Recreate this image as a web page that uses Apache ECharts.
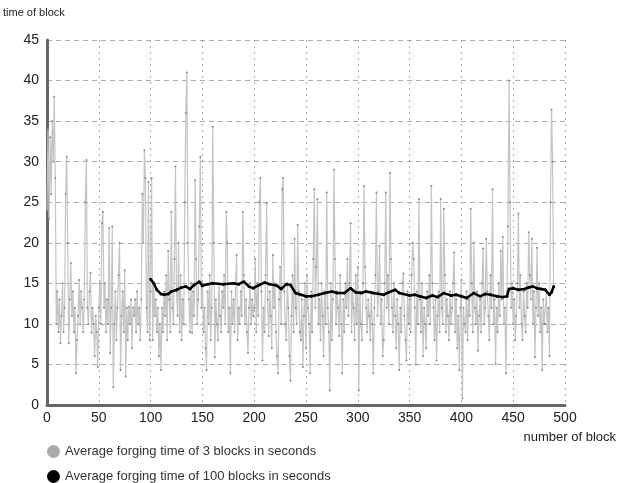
<!DOCTYPE html>
<html>
<head>
<meta charset="utf-8">
<script src="https://cdn.jsdelivr.net/npm/echarts@6/dist/echarts.min.js"></script>
<style>
  html, body { margin: 0; padding: 0; background: #fff; }
  #chart { width: 619px; height: 483px; }
</style>
</head>
<body>
<div id="chart"></div>
<script>
// forging time of 3 blocks, one value per block (0..489)
var block3Values = [
  24, 34, 23, 33, 26, 35, 30, 38, 28, 10,
  14, 9, 13, 7.6, 11, 15, 9, 12, 26, 30.6,
  20, 7.6, 13, 17.5, 11, 14, 9, 12, 3.9, 8,
  11, 15.4, 10, 14, 12, 9, 13, 25, 30.2, 12,
  10, 14, 16.3, 8.9, 12, 10, 6, 11, 9, 4.7,
  12, 15, 10, 22.4, 23.8, 12, 15, 9, 13, 10,
  21.8, 6.4, 12, 22, 2.2, 10, 14, 8, 12, 16,
  20, 4.3, 11, 14, 9, 16.6, 3.5, 12, 8, 12.1,
  10, 13, 7, 12, 11, 13, 9, 14, 10, 12,
  8, 13, 26, 20, 31.4, 28, 12, 9, 27.5, 8,
  14, 28, 8, 15, 11, 13, 9, 12, 6, 10,
  4.3, 12, 9, 14, 11, 16, 8, 19, 13, 9,
  23.8, 12, 10, 18, 29.4, 14, 11, 20, 9, 16,
  8, 13, 10, 25, 36, 41, 20, 13, 9, 15,
  8.9, 14, 11, 27.7, 18, 10, 13, 22, 30.6, 12,
  15, 9, 12, 7, 4.3, 14, 10, 16, 8, 12,
  34.3, 20, 5.9, 13, 10, 8, 15, 11, 9, 14,
  12, 16, 10, 23.8, 20, 9, 12, 3.9, 14, 10,
  13, 9, 15, 18.5, 8, 12, 10, 14, 11, 23.8,
  16, 10, 13, 9, 6.4, 12, 15, 10, 13, 11,
  12, 18, 9, 15, 11, 25, 28, 14, 5.5, 12,
  9, 16, 24.9, 13, 8.5, 14, 11, 7, 18.5, 12,
  15, 9, 6, 3.9, 13, 17, 10, 26.6, 28, 14,
  10, 8, 15, 12, 6, 3, 11, 16, 9, 20.5,
  12, 10, 22.2, 14, 9, 8, 13, 4.7, 11, 15,
  7, 16, 12, 10, 3.9, 14, 9, 18, 26.6, 12,
  17, 25.4, 10, 13, 8, 15, 11, 6, 14, 10,
  26.2, 12, 9, 1.8, 15, 8, 13, 29, 18, 10,
  14, 12, 8.5, 16, 10, 3.9, 13, 9, 15, 12,
  18, 11, 15, 22.4, 9, 14, 12, 8, 16, 10,
  17, 1.8, 14, 10, 8, 15, 27, 17, 12, 9,
  13, 11, 8, 14, 10, 3.9, 12, 16, 26.2, 11,
  14, 19.6, 10, 13, 6, 8, 15, 26.2, 12, 16,
  10, 28.6, 18, 12, 9, 15, 11, 7, 13, 10,
  4.3, 12, 9, 15, 16.2, 11, 8, 5.5, 14, 10,
  13, 9, 16, 20, 18, 12, 5, 14, 10, 25.4,
  13, 9, 15, 6, 12, 10, 7, 14, 11, 16,
  10, 27, 15, 12, 8, 13, 5.5, 11, 14, 9,
  25.4, 12, 10, 24.2, 16, 9, 13, 11, 8, 14,
  10, 12, 15, 18.8, 9, 13, 7, 11, 4.3, 12,
  15.4, 0.8, 12, 10, 9, 14, 8, 13, 11, 24.2,
  15, 9, 20, 12, 10, 14, 6.7, 11, 13, 9,
  15, 19.3, 10, 12, 20.5, 14, 11, 8, 16, 12,
  26.6, 10, 13, 5.1, 12, 9, 15, 11, 19, 13,
  20.7, 10, 12, 3.9, 14, 22, 40, 25, 12, 15,
  10, 13, 8, 11, 15, 23.6, 12, 16, 10, 8,
  14, 11, 9, 15, 12, 21.3, 16, 13, 20.5, 10,
  14, 5.9, 12, 19.4, 11, 15, 9, 12, 4.3, 13,
  10, 10, 14, 9, 12, 6, 25, 36.4, 30, 14.5
];

// forging time of 100 blocks (moving average)
var avgBlocks = [100, 103, 106, 110, 113, 117, 120, 125, 130, 134, 138, 142, 147, 150, 155, 160, 170, 180, 185, 190, 195, 199,
  205, 210, 215, 222, 226, 231, 235, 240, 245, 250, 255, 262, 268, 275, 280, 287, 293, 298, 303, 308, 315, 325, 330, 336,
  340, 350, 355, 360, 366, 372, 377, 383, 390, 395, 400, 405, 412, 418, 423, 428, 434, 440, 444, 446, 450, 455, 461, 465,
  469, 473, 477, 481, 485, 487, 489];
var avgValues = [15.5, 15.0, 14.2, 13.7, 13.6, 13.7, 14.0, 14.2, 14.5, 14.6, 14.3, 14.8, 15.2, 14.7, 14.9, 15.0, 14.9, 15.0, 14.9, 15.2, 14.6, 14.4,
  14.8, 15.1, 14.9, 14.7, 14.3, 14.9, 14.8, 13.8, 13.6, 13.4, 13.4, 13.6, 13.8, 14.0, 13.8, 13.8, 14.4, 13.9, 13.8, 14.0, 13.8, 13.6, 13.9, 14.2,
  13.8, 13.5, 13.6, 13.4, 13.2, 13.5, 13.3, 13.8, 13.5, 13.6, 13.4, 13.2, 13.8, 13.4, 13.7, 13.6, 13.4, 13.3, 13.4, 14.3, 14.4, 14.2, 14.3, 14.5,
  14.6, 14.4, 14.3, 14.2, 13.6, 13.9, 14.6];

var seriesNames = ['Average forging time of 3 blocks in seconds', 'Average forging time of 100 blocks in seconds'];

var myChart = echarts.init(document.getElementById('chart'));
var legendBase = {
    left: 42,
    itemWidth: 13,
    itemHeight: 13,
    itemGap: 6,
    icon: 'circle',
    textStyle: { color: '#333', fontSize: 13 }
};
var option = {
    animation: false,
    backgroundColor: '#fff',
    textStyle: { fontFamily: 'Liberation Sans' },
    grid: { left: 47, right: 49, top: 40, bottom: 78 },
    legend: [
        Object.assign({}, legendBase, { top: 440, data: [{ name: seriesNames[0], itemStyle: { color: '#aaa' } }] }),
        Object.assign({}, legendBase, { top: 465, data: [{ name: seriesNames[1], itemStyle: { color: '#000' } }] })
    ],
    xAxis: {
        type: 'value',
        min: 0,
        max: 500,
        interval: 50,
        name: 'number of block',
        nameLocation: 'end',
        nameGap: 51,
        nameTextStyle: { color: '#222', fontSize: 13, align: 'right', verticalAlign: 'top', padding: [26, 0, 0, 0] },
        axisLine: { lineStyle: { color: '#666', width: 3 } },
        axisTick: { show: false },
        axisLabel: { color: '#222', fontSize: 14, margin: 6 },
        splitLine: { show: true, lineStyle: { color: '#aaa', type: [2, 4] } }
    },
    yAxis: {
        type: 'value',
        min: 0,
        max: 45,
        interval: 5,
        name: 'time of block',
        nameLocation: 'end',
        nameGap: 22,
        nameTextStyle: { color: '#222', fontSize: 11, align: 'left', padding: [0, 0, 0, -44] },
        axisLine: { show: true, lineStyle: { color: '#666', width: 3 } },
        axisTick: { show: false },
        axisLabel: { color: '#222', fontSize: 14, margin: 8 },
        splitLine: { show: true, lineStyle: { color: '#aaa', type: [5, 4] } }
    },
    series: [
        {
            name: seriesNames[0],
            type: 'line',
            data: block3Values.map(function (v, i) { return [i, v]; }),
            symbol: 'circle',
            symbolSize: 2,
            showAllSymbol: true,
            itemStyle: { color: '#8a8a8a' },
            lineStyle: { color: '#c4c4c4', width: 1.2 }
        },
        {
            name: seriesNames[1],
            type: 'line',
            data: avgBlocks.map(function (b, i) { return [b, avgValues[i]]; }),
            symbol: 'circle',
            symbolSize: 3,
            showAllSymbol: true,
            itemStyle: { color: '#000' },
            lineStyle: { color: '#000', width: 2.5 },
            z: 5
        }
    ]
};
myChart.setOption(option);
window.addEventListener('resize', function () {
    myChart.resize();
});
</script>
</body>
</html>
